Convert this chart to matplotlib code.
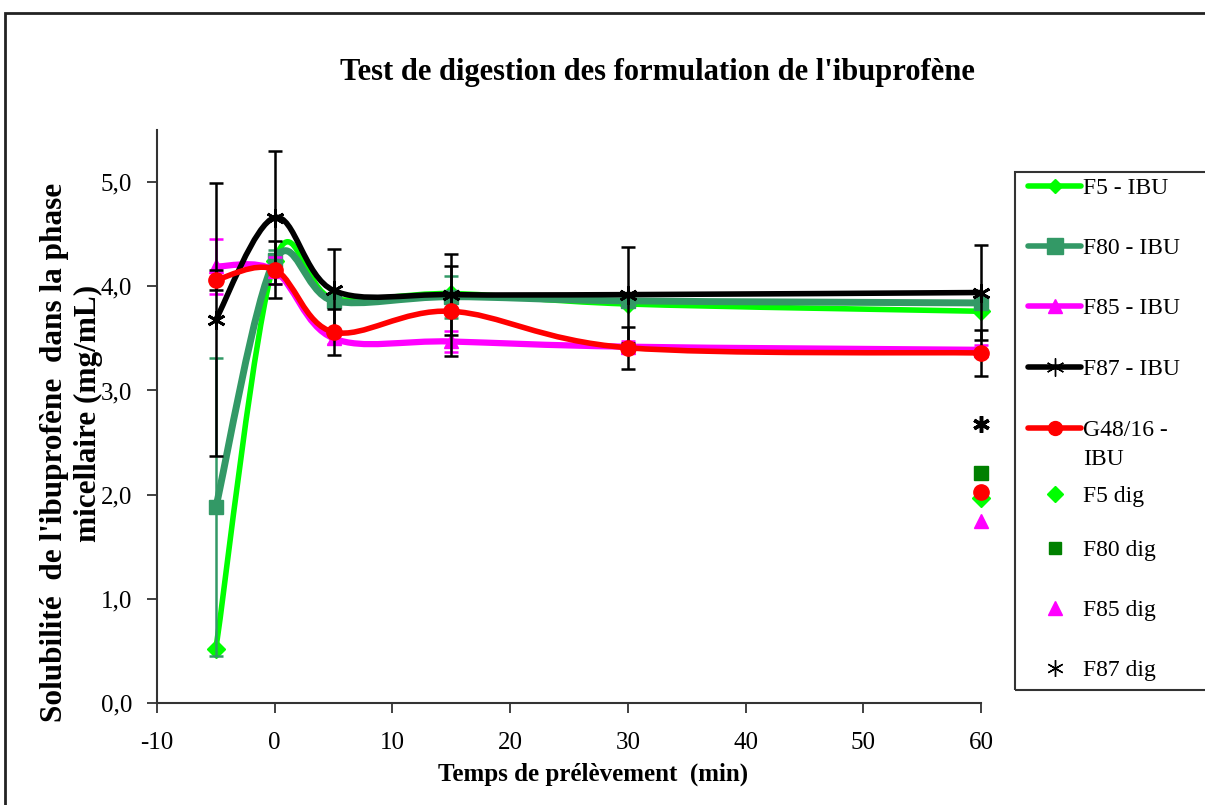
import numpy as np
import matplotlib
matplotlib.use("Agg")
import matplotlib.pyplot as plt
from matplotlib.path import Path
from matplotlib.patches import PathPatch, Rectangle
from matplotlib.lines import Line2D
from matplotlib.ticker import FuncFormatter

plt.rcParams['font.family'] = ['Liberation Serif', 'DejaVu Serif']
plt.rcParams['axes.unicode_minus'] = False

# ---------------- data ----------------
times = [-5, 0, 5, 15, 30, 60]
f5_ibu = [0.52, 4.24, 3.88, 3.93, 3.83, 3.76]
f80_ibu = [1.88, 4.25, 3.86, 3.90, 3.86, 3.84]
f85_ibu = [4.19, 4.15, 3.50, 3.47, 3.42, 3.39]
f87_ibu = [3.68, 4.66, 3.96, 3.92, 3.92, 3.94]
g48_ibu = [4.06, 4.16, 3.56, 3.76, 3.41, 3.36]

f80_err = [1.43, 0.10, 0.05, 0.20, 0.05, 0.05]
f85_err = [0.26, 0.13, 0.05, 0.10, 0.05, 0.05]
f87_err = [1.31, 0.64, 0.40, 0.39, 0.46, 0.46]
g48_err = [0.10, 0.27, 0.22, 0.43, 0.20, 0.22]

dig_time = [60]
f5_dig = [1.97]
f80_dig = [2.21]
f85_dig = [1.75]
f87_dig = [2.68]
g48_dig = [2.03]

labels_ibu = ["F5 - IBU", "F80 - IBU", "F85 - IBU", "F87 - IBU", "G48/16 -\nIBU"]
labels_dig = ["F5 dig", "F80 dig", "F85 dig", "F87 dig"]
x_ticks = [-10, 0, 10, 20, 30, 40, 50, 60]
y_ticks = [0, 1, 2, 3, 4, 5]

title = "Test de digestion des formulation de l'ibuprofène"
xlabel = "Temps de prélèvement  (min)"
ylabel_line1 = "Solubilité  de l'ibuprofène  dans la phase"
ylabel_line2 = "micellaire (mg/mL)"

# ---------------- style ----------------
C_F5 = "#00FF00"
C_F80 = "#339966"
C_F85 = "#FF00FF"
C_F87 = "#000000"
C_G48 = "#FF0000"
C_F80DIG = "#008000"
STAR = (6, 2, 0)


def smooth_path(xs, ys, t=1.0 / 6.0):
    pts = np.column_stack([xs, ys]).astype(float)
    n = len(pts)
    verts = [pts[0]]
    codes = [Path.MOVETO]
    for i in range(n - 1):
        p0 = pts[i - 1] if i > 0 else pts[i]
        p1 = pts[i]
        p2 = pts[i + 1]
        p3 = pts[i + 2] if i + 2 < n else pts[i + 1]
        c1 = p1 + (p2 - p0) * t
        c2 = p2 - (p3 - p1) * t
        verts += [c1, c2, p2]
        codes += [Path.CURVE4] * 3
    return Path(verts, codes)


W, H = 1205, 805


def fx(px):
    return px / W


def fy(py):
    return 1 - py / H


fig = plt.figure(figsize=(W / 100, H / 100), dpi=100)
fig.patch.set_facecolor("white")

ax = fig.add_axes([fx(157), fy(703), (981 - 157) / W, (703 - 130) / H])
ax.set_xlim(-10, 60)
ax.set_ylim(0, 5.5)

series = [
    (f5_ibu, C_F5, "D", 9, None, 4.0),
    (f80_ibu, C_F80, "s", 10, f80_err, 5.0),
    (f85_ibu, C_F85, "^", 10, f85_err, 4.5),
    (f87_ibu, C_F87, STAR, 13, f87_err, 4.0),
    (g48_ibu, C_G48, "o", 11, g48_err, 4.0),
]
err_colors = [None, C_F80, C_F85, "black", "black"]

for k, (vals, col, mk, ms, err, lw) in enumerate(series):
    z = 2 + k
    patch = PathPatch(smooth_path(times, vals), fill=False, edgecolor=col,
                      lw=lw, capstyle="round", joinstyle="round", zorder=z)
    ax.add_patch(patch)
    mew = 2.0 if mk == STAR else 1.0
    ax.plot(times, vals, ls="none", marker=mk, ms=ms, color=col, mec=col,
            mew=mew, zorder=z + 0.2, clip_on=False)
    if err is not None:
        ax.errorbar(times, vals, yerr=err, fmt="none", ecolor=err_colors[k],
                    elinewidth=1.8, capsize=5, capthick=1.8, zorder=z + 0.1,
                    clip_on=False)

ax.plot(dig_time, f5_dig, ls="none", marker="D", ms=9, color=C_F5, zorder=8, clip_on=False)
ax.plot(dig_time, f80_dig, ls="none", marker="s", ms=10, color=C_F80DIG, zorder=8, clip_on=False)
ax.plot(dig_time, g48_dig, ls="none", marker="o", ms=11, color=C_G48, zorder=8.5, clip_on=False)
ax.plot(dig_time, f85_dig, ls="none", marker="^", ms=10, color=C_F85, zorder=8, clip_on=False)
ax.plot(dig_time, f87_dig, ls="none", marker=STAR, ms=12, mew=2.5, color=C_F87, zorder=8, clip_on=False)

# axes styling
for s in ["top", "right"]:
    ax.spines[s].set_visible(False)
for s in ["left", "bottom"]:
    ax.spines[s].set_color("#333333")
    ax.spines[s].set_linewidth(1.5)
ax.set_xticks(x_ticks)
ax.set_yticks(y_ticks)
ax.yaxis.set_major_formatter(FuncFormatter(lambda v, p: f"{v:.1f}".replace(".", ",")))
ax.tick_params(axis="both", direction="out", length=7, width=1.3, color="#333333",
               labelsize=18)
ax.tick_params(axis="x", pad=14)
ax.tick_params(axis="y", pad=11)

fig.text(fx(657), fy(80), title, ha="center", va="baseline",
         fontsize=22, fontweight="bold")
fig.text(fx(593), fy(781), xlabel, ha="center", va="baseline",
         fontsize=18, fontweight="bold")
fig.text(fx(55), fy(452), ylabel_line1, ha="center", va="center", rotation=90,
         fontsize=22.5, fontweight="bold")
fig.text(fx(88), fy(413), ylabel_line2, ha="center", va="center", rotation=90,
         fontsize=22.5, fontweight="bold")

# legend (drawn by hand to follow the reference layout)
leg_y = [186, 246, 306, 367, 428, 494, 548, 608, 668]
leg_labels = labels_ibu + labels_dig
leg_styles = [
    dict(color=C_F5, lw=4, marker="D", ms=7),
    dict(color=C_F80, lw=4, marker="s", ms=11),
    dict(color=C_F85, lw=4, marker="^", ms=10),
    dict(color=C_F87, lw=4, marker=STAR, ms=13, mew=1.0),
    dict(color=C_G48, lw=4, marker="o", ms=10),
    dict(color=C_F5, ls="none", marker="D", ms=8),
    dict(color=C_F80DIG, ls="none", marker="s", ms=9),
    dict(color=C_F85, ls="none", marker="^", ms=10),
    dict(color=C_F87, ls="none", marker=STAR, ms=12, mew=1.0),
]
hx0, hx1, tx = 1028, 1081, 1083
for yy, lab, st in zip(leg_y, leg_labels, leg_styles):
    st = dict(st)
    mk = st.pop("marker")
    ms = st.pop("ms")
    mew = st.pop("mew", 1.0)
    col = st["color"]
    if st.get("ls") != "none":
        fig.add_artist(Line2D([fx(hx0), fx(hx1)], [fy(yy), fy(yy)],
                              transform=fig.transFigure, solid_capstyle="round", **st))
    fig.add_artist(Line2D([fx((hx0 + hx1) / 2)], [fy(yy)], transform=fig.transFigure,
                          ls="none", marker=mk, ms=ms, mew=mew, color=col, mec=col))
    fig.text(fx(tx), fy(yy - 8), lab, ha="left", va="top", fontsize=17,
             linespacing=1.5)

fig.add_artist(Rectangle((fx(1015), fy(690)), 0.3, (690 - 172) / H,
                         transform=fig.transFigure, fill=False, lw=1.5,
                         ec="#333333", clip_on=False))
fig.add_artist(Rectangle((fx(5), -0.1), 1.2, 1.1 - 13 / H,
                         transform=fig.transFigure, fill=False, lw=2,
                         ec="#222222", clip_on=False))

fig.savefig("out.png", dpi=100, facecolor="white")
